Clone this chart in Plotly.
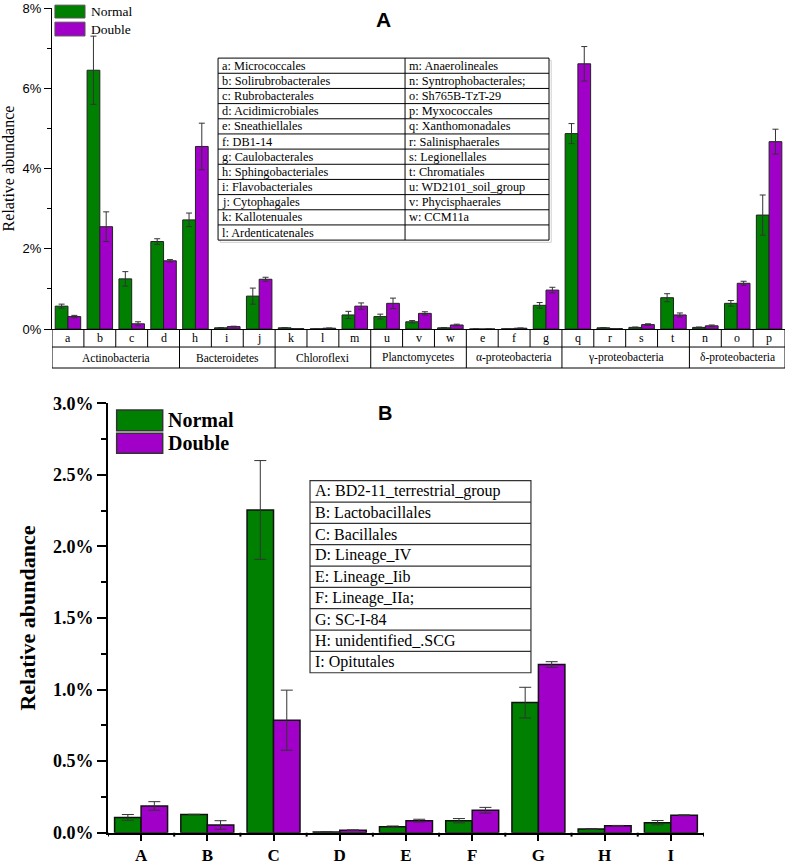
import plotly.graph_objects as go

# ---------------- data: panel A ----------------
top_cats = ['a', 'b', 'c', 'd', 'h', 'i', 'j', 'k', 'l', 'm', 'u', 'v', 'w',
            'e', 'f', 'g', 'q', 'r', 's', 't', 'n', 'o', 'p']
top_normal = [0.57, 6.45, 1.25, 2.18, 2.72, 0.03, 0.82, 0.03, 0.005, 0.35, 0.31, 0.18, 0.03,
              0.0, 0.005, 0.59, 4.87, 0.03, 0.04, 0.78, 0.04, 0.64, 2.84]
top_normal_err = [0.05, 0.85, 0.18, 0.07, 0.17, 0.005, 0.20, 0.005, 0.0, 0.09, 0.06, 0.03, 0.005,
                  0.0, 0.0, 0.07, 0.25, 0.005, 0.01, 0.10, 0.01, 0.07, 0.50]
top_double = [0.31, 2.55, 0.13, 1.70, 4.55, 0.06, 1.24, 0.01, 0.02, 0.57, 0.64, 0.39, 0.10,
              0.0, 0.02, 0.97, 6.61, 0.01, 0.11, 0.35, 0.08, 1.14, 4.67]
top_double_err = [0.03, 0.37, 0.05, 0.03, 0.58, 0.01, 0.05, 0.0, 0.005, 0.08, 0.13, 0.04, 0.02,
                  0.0, 0.005, 0.07, 0.43, 0.0, 0.02, 0.05, 0.02, 0.05, 0.31]
top_groups = ['Actinobacteria', 'Bacteroidetes', 'Chloroflexi', 'Planctomycetes',
              'α-proteobacteria', 'γ-proteobacteria', 'δ-proteobacteria']
top_group_sizes = [4, 3, 3, 3, 3, 4, 3]
top_key_left = ['a: Micrococcales', 'b: Solirubrobacterales', 'c: Rubrobacterales',
                'd: Acidimicrobiales', 'e: Sneathiellales', 'f: DB1-14', 'g: Caulobacterales',
                'h: Sphingobacteriales', 'i: Flavobacteriales', 'j: Cytophagales',
                'k: Kallotenuales', 'l: Ardenticatenales']
top_key_right = ['m: Anaerolineales', 'n: Syntrophobacterales;', 'o: Sh765B-TzT-29',
                 'p: Myxococcales', 'q: Xanthomonadales', 'r: Salinisphaerales',
                 's: Legionellales', 't: Chromatiales', 'u: WD2101_soil_group',
                 'v: Phycisphaerales', 'w: CCM11a', '']

# ---------------- data: panel B ----------------
bot_cats = ['A', 'B', 'C', 'D', 'E', 'F', 'G', 'H', 'I']
bot_normal = [0.107, 0.128, 2.255, 0.005, 0.042, 0.084, 0.909, 0.026, 0.070]
bot_normal_err = [0.02, 0.0, 0.345, 0.0, 0.005, 0.015, 0.107, 0.003, 0.015]
bot_double = [0.187, 0.054, 0.786, 0.018, 0.084, 0.157, 1.175, 0.049, 0.122]
bot_double_err = [0.03, 0.03, 0.21, 0.002, 0.01, 0.02, 0.02, 0.002, 0.003]
bot_key = ['A: BD2-11_terrestrial_group', 'B: Lactobacillales', 'C: Bacillales',
           'D: Lineage_IV', 'E: Lineage_Iib', 'F: Lineage_IIa;', 'G: SC-I-84',
           'H: unidentified_.SCG', 'I: Opitutales']
series_names = ['Normal', 'Double']

GREEN = '#008000'
PURPLE = '#A000C8'
SERIF = 'Liberation Serif'
SANS = 'Liberation Sans'

fig = go.Figure()

def err(arr, w):
    return dict(type='data', array=arr, color='#333333', thickness=1, width=w)

fig.add_trace(go.Bar(x=top_cats, y=top_normal, error_y=err(top_normal_err, 3), name=series_names[0],
                     marker=dict(color=GREEN, line=dict(color='#222222', width=1)),
                     xaxis='x', yaxis='y', showlegend=False))
fig.add_trace(go.Bar(x=top_cats, y=top_double, error_y=err(top_double_err, 3), name=series_names[1],
                     marker=dict(color=PURPLE, line=dict(color='#222222', width=1)),
                     xaxis='x', yaxis='y', showlegend=False))
fig.add_trace(go.Bar(x=bot_cats, y=bot_normal, error_y=err(bot_normal_err, 6), name=series_names[0],
                     marker=dict(color=GREEN, line=dict(color='#111111', width=1.5)),
                     xaxis='x2', yaxis='y2', showlegend=False))
fig.add_trace(go.Bar(x=bot_cats, y=bot_double, error_y=err(bot_double_err, 6), name=series_names[1],
                     marker=dict(color=PURPLE, line=dict(color='#111111', width=1.5)),
                     xaxis='x2', yaxis='y2', showlegend=False))

shapes = []
annotations = []
LINE = dict(color='black', width=1)

def note(x, y, text, xref, yref, size, xanchor='center', bold=False, family=SERIF):
    annotations.append(dict(x=x, y=y, xref=xref, yref=yref, text=text, showarrow=False,
                            xanchor=xanchor, yanchor='middle', align='left',
                            font=dict(family=family, size=size, color='black',
                                      weight='bold' if bold else 'normal')))

# ----- panel A: category/group table under the axis -----
n_top = len(top_cats)
r1, r2 = -0.0561, -0.1215
for i in range(n_top + 1):
    shapes.append(dict(type='line', xref='x', yref='y domain', x0=i - 0.5, x1=i - 0.5,
                       y0=0, y1=r1, line=LINE))
for yy in (r1, r2):
    shapes.append(dict(type='line', xref='x', yref='y domain', x0=-0.5, x1=n_top - 0.5,
                       y0=yy, y1=yy, line=LINE))
start = 0
bounds = [0]
for g, s in zip(top_groups, top_group_sizes):
    note(start + (s - 1) / 2, (r1 + r2) / 2, g, 'x', 'y domain', 11.5)
    start += s
    bounds.append(start)
for b in bounds:
    shapes.append(dict(type='line', xref='x', yref='y domain', x0=b - 0.5, x1=b - 0.5,
                       y0=r1, y1=r2, line=LINE))
for c in top_cats:
    note(c, r1 / 2, c, 'x', 'y domain', 12)

# ----- panel A: key table -----
tx0, tx1, txm = 0.2265, 0.678, 0.4816
ty0, ty1 = 0.844, 0.277
nrow = len(top_key_left)
rh = (ty0 - ty1) / nrow
# faint shadow on right/bottom
shapes.append(dict(type='rect', xref='x domain', yref='y domain', x0=tx0 + 0.003, x1=tx1 + 0.003,
                   y0=ty1 - 0.007, y1=ty0 - 0.007, line=dict(color='#d0d0d0', width=1), fillcolor='white'))
shapes.append(dict(type='rect', xref='x domain', yref='y domain', x0=tx0, x1=tx1, y0=ty1, y1=ty0,
                   line=LINE, fillcolor='white'))
shapes.append(dict(type='line', xref='x domain', yref='y domain', x0=txm, x1=txm, y0=ty1, y1=ty0,
                   line=LINE))
for k in range(1, nrow):
    shapes.append(dict(type='line', xref='x domain', yref='y domain', x0=tx0, x1=tx1,
                       y0=ty0 - k * rh, y1=ty0 - k * rh, line=LINE))
for k, (lt, rt) in enumerate(zip(top_key_left, top_key_right)):
    yc = ty0 - (k + 0.5) * rh
    note(tx0 + 0.003, yc, lt, 'x domain', 'y domain', 12.3, xanchor='left')
    if rt:
        note(txm + 0.003, yc, rt, 'x domain', 'y domain', 12.3, xanchor='left')

# ----- panel A legend -----
for (y0, y1), col, nm in zip([(0.969, 1.009), (0.913, 0.956)], [GREEN, PURPLE], series_names):
    shapes.append(dict(type='rect', xref='x domain', yref='y domain', x0=0.004, x1=0.045, y0=y0, y1=y1,
                       fillcolor=col, line=dict(color='#555555', width=1)))
    note(0.05, (y0 + y1) / 2, nm, 'x domain', 'y domain', 13.5, xanchor='left')

# ----- panel B: key table -----
bx0, bx1 = 0.339, 0.7097
by0, by1 = 0.8198, 0.3726
nb = len(bot_key)
bh = (by0 - by1) / nb
shapes.append(dict(type='rect', xref='x2 domain', yref='y2 domain', x0=bx0, x1=bx1, y0=by1, y1=by0,
                   line=dict(color='#333333', width=1.2), fillcolor='white'))
for k in range(1, nb):
    shapes.append(dict(type='line', xref='x2 domain', yref='y2 domain', x0=bx0, x1=bx1,
                       y0=by0 - k * bh, y1=by0 - k * bh, line=dict(color='#333333', width=1.2)))
for k, t in enumerate(bot_key):
    note(bx0 + 0.005, by0 - (k + 0.5) * bh, t, 'x2 domain', 'y2 domain', 16, xanchor='left')

# ----- panel B legend -----
for (y0, y1), col, nm in zip([(0.936, 0.9844), (0.8835, 0.930)], [GREEN, PURPLE], series_names):
    shapes.append(dict(type='rect', xref='x2 domain', yref='y2 domain', x0=0.0146, x1=0.0918, y0=y0, y1=y1,
                       fillcolor=col, line=dict(color='#333333', width=1.5)))
    note(0.098, (y0 + y1) / 2, nm, 'x2 domain', 'y2 domain', 20, xanchor='left', bold=True)

# ----- panel B minor x ticks at category boundaries -----
for i in range(len(bot_cats) + 1):
    shapes.append(dict(type='line', xref='x2', yref='y2 domain', x0=i - 0.5, x1=i - 0.5, y0=0, y1=-0.009,
                       line=dict(color='black', width=2)))

# ----- panel titles -----
note(0.4867, 0.977, 'A', 'paper', 'paper', 21, bold=True, family=SANS)
note(0.489, 0.522, 'B', 'paper', 'paper', 20, bold=True, family=SANS)

fig.update_layout(
    width=787, height=864,
    margin=dict(l=0, r=0, t=0, b=0, autoexpand=False),
    paper_bgcolor='white', plot_bgcolor='white',
    barmode='group', bargap=0.2, bargroupgap=0,
    showlegend=False,
    shapes=shapes, annotations=annotations,
    xaxis=dict(domain=[0.0661, 0.9975], anchor='y', type='category', range=[-0.5, n_top - 0.5],
               showline=True, linecolor='black', linewidth=1, ticks='', showticklabels=False,
               showgrid=False, zeroline=False, automargin=False),
    yaxis=dict(domain=[0.6192, 0.9907], anchor='x', range=[0, 8], dtick=2, ticksuffix='%',
               ticks='outside', ticklen=7, tickcolor='black', showline=True, linecolor='black',
               linewidth=1, showgrid=False, zeroline=False, automargin=False,
               minor=dict(ticks='outside', ticklen=4, dtick=1, tickcolor='black'),
               tickfont=dict(family=SANS, size=13, color='black'),
               title=dict(text='Relative abundance', standoff=6,
                          font=dict(family=SERIF, size=16, color='black'))),
    xaxis2=dict(domain=[0.1372, 0.8945], anchor='y2', type='category', range=[-0.5, len(bot_cats) - 0.5],
                showline=True, linecolor='black', linewidth=2, ticks='outside', ticklen=6, tickwidth=2,
                tickcolor='black', showgrid=False, zeroline=False, automargin=False,
                tickfont=dict(family=SERIF, size=17, color='black', weight='bold')),
    yaxis2=dict(domain=[0.0362, 0.5332], anchor='x2', range=[0, 3], dtick=0.5, tickformat='.1f',
                ticksuffix='%', ticks='outside', ticklen=9, tickwidth=2, tickcolor='black',
                showline=True, linecolor='black', linewidth=2, showgrid=False, zeroline=False,
                automargin=False,
                minor=dict(ticks='outside', ticklen=5, dtick=0.25, tickcolor='black', tickwidth=2),
                tickfont=dict(family=SERIF, size=18, color='black', weight='bold'),
                title=dict(text='Relative abundance', standoff=11,
                           font=dict(family=SERIF, size=22, color='black', weight='bold'))),
)

fig.write_html('out.html', config={'displayModeBar': False},
               post_script="document.body.style.margin='0';document.body.style.overflow='hidden';")
